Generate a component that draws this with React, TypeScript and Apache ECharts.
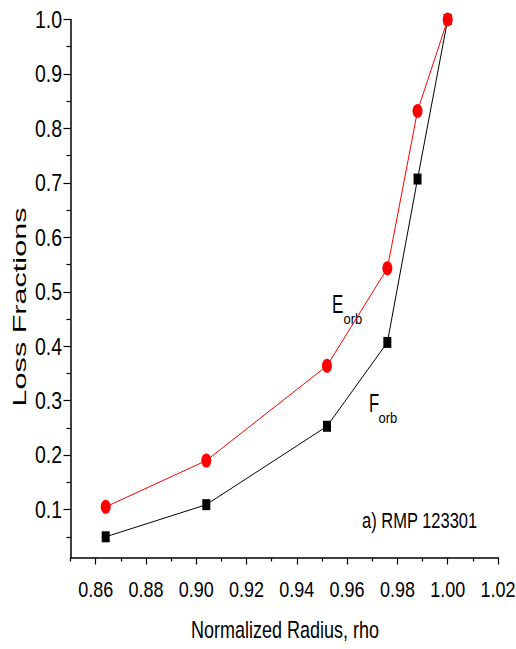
import { useEffect, useRef } from "react";
import * as echarts from "echarts";

// Data
const rho = [0.864, 0.904, 0.952, 0.976, 0.988, 1.0];
const eorb = [0.105, 0.19, 0.364, 0.543, 0.832, 1.0];
const forb = [0.05, 0.109, 0.253, 0.407, 0.707, 1.0];

// Axis ticks
const xMajorTicks = [0.86, 0.88, 0.9, 0.92, 0.94, 0.96, 0.98, 1.0, 1.02];
const xMinorTicks = [0.85, 0.87, 0.89, 0.91, 0.93, 0.95, 0.97, 0.99, 1.01];
const yMajorTicks = [0.1, 0.2, 0.3, 0.4, 0.5, 0.6, 0.7, 0.8, 0.9, 1.0];
const yMinorTicks = [0.05, 0.15, 0.25, 0.35, 0.45, 0.55, 0.65, 0.75, 0.85, 0.95];

const xTitle = "Normalized Radius, rho";
const yTitle = "Loss Fractions";
const caption = "a) RMP 123301";

const SANS = '"Liberation Sans", Arial, sans-serif';

export default function App() {
  const ref = useRef<HTMLDivElement>(null);

  useEffect(() => {
    document.body.style.margin = "0";
    if (!ref.current) return;
    const chart = echarts.init(ref.current, undefined, { renderer: "svg" });
    const xMin = 0.85, xMax = 1.02, yMin = 0.012, yMax = 1.0;
    const axisLineStyle = { color: "#000", width: 1.5 };
    chart.setOption({
      animation: false,
      backgroundColor: "#fff",
      grid: { left: 70.5, top: 19.5, width: 427.5, height: 538, containLabel: false },
      xAxis: [
        {
          type: "value",
          min: xMin,
          max: xMax,
          position: "bottom",
          axisLine: { show: true, onZero: false, lineStyle: axisLineStyle },
          axisTick: { show: true, inside: false, length: 7, customValues: xMajorTicks, lineStyle: { color: "#000", width: 1.2 } },
          axisLabel: { show: false, customValues: xMajorTicks },
          splitLine: { show: false },
        },
        {
          type: "value",
          min: xMin,
          max: xMax,
          position: "bottom",
          axisLine: { show: false, onZero: false },
          axisTick: { show: true, inside: false, length: 4, customValues: xMinorTicks, lineStyle: { color: "#000", width: 1.2 } },
          axisLabel: { show: false },
          splitLine: { show: false },
        },
      ],
      yAxis: [
        {
          type: "value",
          min: yMin,
          max: yMax,
          position: "left",
          axisLine: { show: true, onZero: false, lineStyle: axisLineStyle },
          axisTick: { show: true, inside: false, length: 7, customValues: yMajorTicks, lineStyle: { color: "#000", width: 1.2 } },
          axisLabel: { show: false, customValues: yMajorTicks },
          splitLine: { show: false },
        },
        {
          type: "value",
          min: yMin,
          max: yMax,
          position: "left",
          axisLine: { show: false, onZero: false },
          axisTick: { show: true, inside: false, length: 4, customValues: yMinorTicks, lineStyle: { color: "#000", width: 1.2 } },
          axisLabel: { show: false },
          splitLine: { show: false },
        },
      ],
      series: [
        {
          name: "Forb",
          type: "line",
          xAxisIndex: 0,
          yAxisIndex: 0,
          data: rho.map((x, i) => [x, forb[i]]),
          symbol: "rect",
          symbolSize: [8, 11],
          itemStyle: { color: "#000" },
          lineStyle: { color: "#000", width: 1 },
          z: 2,
        },
        {
          name: "Eorb",
          type: "line",
          xAxisIndex: 0,
          yAxisIndex: 0,
          data: rho.map((x, i) => [x, eorb[i]]),
          symbol: "circle",
          symbolSize: [10, 14],
          itemStyle: { color: "#ff0000" },
          lineStyle: { color: "#ff0000", width: 1 },
          z: 3,
        },
      ],
    });

    // Tick labels placed through the axes' own scales (drawn as slightly tall text like the reference)
    const txt = (text: string, x: number, y: number, size: number, sy: number, align: string) => ({
      type: "text",
      x,
      y,
      scaleY: sy,
      style: { text, font: `${size}px ${SANS}`, fill: "#000", align, verticalAlign: "middle" },
    });
    const xLabelEls = xMajorTicks.map((v) => {
      const px = chart.convertToPixel({ xAxisIndex: 0 }, v) as number;
      return txt(v.toFixed(2), px, 589, 18, 1.25, "center");
    });
    const yLabelEls = yMajorTicks.map((v) => {
      const py = chart.convertToPixel({ yAxisIndex: 0 }, v) as number;
      return txt(v.toFixed(1), 62, py, 19.5, 1.25, "right");
    });

    chart.setOption({
      graphic: [
        ...xLabelEls,
        ...yLabelEls,
        txt(xTitle, 285, 630, 18, 1.34, "center"),
        {
          type: "text",
          x: 20,
          y: 307,
          rotation: Math.PI / 2,
          scaleX: 1.7,
          style: { text: yTitle, font: `18px ${SANS}`, fill: "#000", align: "center", verticalAlign: "middle" },
        },
        txt("E", 332, 304, 17, 1.55, "left"),
        txt("orb", 343.5, 319, 13, 1.1, "left"),
        txt("F", 369, 404, 16.5, 1.55, "left"),
        txt("orb", 378.5, 418, 13, 1.1, "left"),
        txt(caption, 362, 521, 16.5, 1.3, "left"),
      ],
    });
    return () => chart.dispose();
  }, []);

  return <div ref={ref} style={{ width: 516, height: 649, position: "absolute", left: 0, top: 0 }} />;
}
